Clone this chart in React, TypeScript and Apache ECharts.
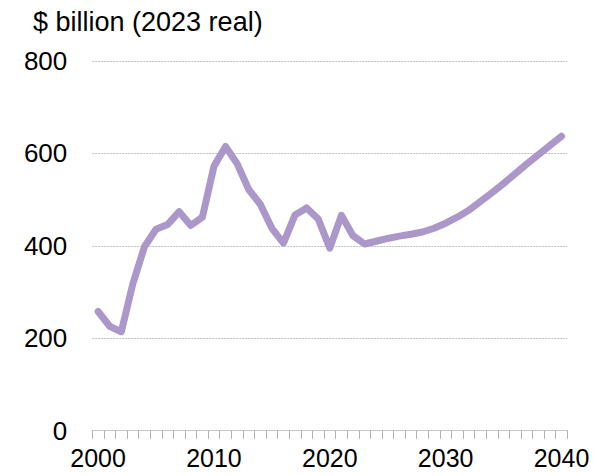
import React, { useEffect, useRef } from "react";
import * as echarts from "echarts";

const years: string[] = [];
for (let y = 2000; y <= 2040; y++) years.push(String(y));

const investment: number[] = [
  258, 226, 214, 318, 398, 436, 446, 474, 444, 462,
  572, 615, 578, 522, 490, 438, 406, 467, 482, 458,
  395, 466, 422, 404, 410, 416, 421, 425, 430, 438,
  449, 462, 477, 496, 515, 535, 556, 577, 597, 617,
  637,
];

const yTicks = { min: 0, max: 800, interval: 200 };
const unitLabel = "$ billion (2023 real)";

const FONT = "Liberation Sans, Arial, sans-serif";

export default function App() {
  const ref = useRef<HTMLDivElement>(null);
  useEffect(() => {
    if (!ref.current) return;
    const chart = echarts.init(ref.current, null, { renderer: "svg" });
    chart.setOption({
      animation: false,
      backgroundColor: "#ffffff",
      title: {
        text: unitLabel,
        left: 28,
        top: 3,
        textStyle: {
          fontFamily: FONT,
          fontSize: 27,
          fontWeight: "normal",
          color: "#000000",
        },
      },
      grid: { left: 92.3, right: 25.7, top: 61, bottom: 45.3, containLabel: false },
      xAxis: {
        type: "category",
        data: years,
        boundaryGap: true,
        axisLine: { show: true, lineStyle: { color: "#c8c8c8", width: 1 } },
        axisTick: {
          show: true,
          interval: 0,
          length: 8,
          lineStyle: { color: "#b0b0b0", width: 1 },
        },
        axisLabel: {
          interval: 9,
          margin: 15,
          fontFamily: FONT,
          fontSize: 25,
          color: "#000000",
        },
        splitLine: { show: false },
      },
      yAxis: {
        type: "value",
        min: yTicks.min,
        max: yTicks.max,
        interval: yTicks.interval,
        axisLine: { show: false },
        axisTick: { show: false },
        axisLabel: {
          margin: 25,
          fontFamily: FONT,
          fontSize: 26,
          color: "#000000",
        },
        splitLine: {
          show: true,
          lineStyle: { color: "#bdbdbd", width: 1, type: [2, 1] },
        },
      },
      series: [
        {
          type: "line",
          data: investment,
          symbol: "none",
          smooth: false,
          lineStyle: { color: "#ab97c9", width: 7, cap: "round", join: "round" },
        },
      ],
    });
    return () => chart.dispose();
  }, []);
  return (
    <div
      ref={ref}
      style={{ position: "fixed", left: 0, top: 0, width: 593, height: 476 }}
    />
  );
}
